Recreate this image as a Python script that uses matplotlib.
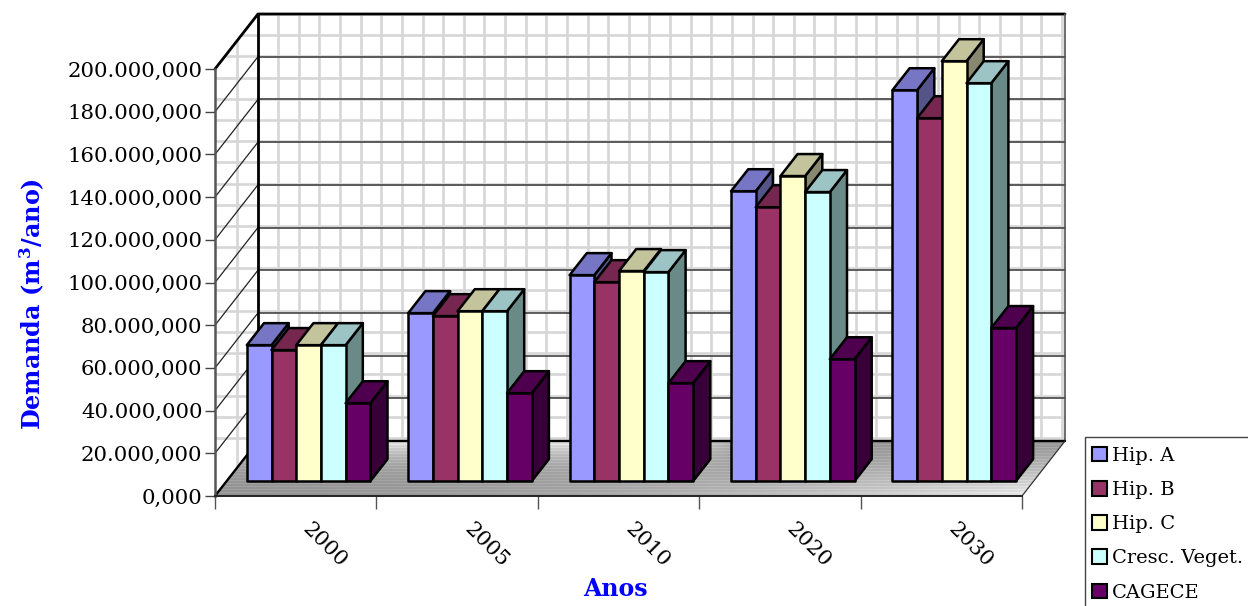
import numpy as np
import matplotlib
matplotlib.use("Agg")
import matplotlib.pyplot as plt
from matplotlib.patches import Polygon, Patch, Rectangle
from matplotlib.transforms import ScaledTranslation

plt.rcParams['font.family'] = ['DejaVu Serif']
plt.rcParams['mathtext.fontset'] = 'dejavuserif'

# values
years = ["2000", "2005", "2010", "2020", "2030"]
hip_a = [63.7, 78.7, 96.5, 135.8, 183.1]
hip_b = [61.4, 77.3, 93.2, 128.3, 170.0]
hip_c = [63.7, 79.6, 98.4, 142.9, 196.7]
veget = [63.7, 79.6, 97.9, 135.4, 186.4]
cagece = [36.5, 41.2, 45.9, 57.1, 71.7]
series_names = ["Hip. A", "Hip. B", "Hip. C", "Cresc. Veget.", "CAGECE"]
series = [hip_a, hip_b, hip_c, veget, cagece]
y_ticks = [0, 20, 40, 60, 80, 100, 120, 140, 160, 180, 200]
y_labels = ["0,000", "20.000,000", "40.000,000", "60.000,000", "80.000,000", "100.000,000",
            "120.000,000", "140.000,000", "160.000,000", "180.000,000", "200.000,000"]

front = ["#9999ff", "#993366", "#ffffcc", "#ccffff", "#660066"]
top = ["#7676c4", "#762750", "#c4c49c", "#9cc4c4", "#4e004e"]
side = ["#545488", "#541c38", "#888870", "#6a8a88", "#380038"]

W, H = 1248, 606
x0, x1 = 215, 1022
y0, y200 = 496, 69
fig = plt.figure(figsize=(W / 100, H / 100), dpi=100)
ax = fig.add_axes([x0 / W, 1 - y0 / H, (x1 - x0) / W, (y0 - y200) / H])
ax.set_xlim(0, 5)
ax.set_ylim(0, 200)
px_x = 5 / (x1 - x0)
px_y = 200 / (y0 - y200)
dep_x = 43 * px_x
dep_y = 55 * px_y


def proj(x, v, d):
    # oblique projection: d=0 front of the floor, d=1 back wall
    return x + d * dep_x, v + d * dep_y


def px(x, y):
    return (x - x0) * px_x, (y0 - y) * px_y


# walls
wall_left = Polygon([proj(0, 0, 0), proj(0, 200, 0), proj(0, 200, 1), proj(0, 0, 1)],
                    fc="white", ec="none", zorder=1, clip_on=False)
wall_back = Polygon([proj(0, 0, 1), proj(5, 0, 1), proj(5, 200, 1), proj(0, 200, 1)],
                    fc="white", ec="none", zorder=1, clip_on=False)
ax.add_patch(wall_left)
ax.add_patch(wall_back)

# tiled light grid of the wall texture, not perspective aligned
for wall in (wall_left, wall_back):
    for gx in np.arange(237, 1066, 20.62):
        a, _ = px(gx, 0)
        ln = ax.plot([a, a], [-20, 240], color="#d6d6d6", lw=1.9, zorder=1.5)[0]
        ln.set_clip_box(fig.bbox)
        ln.set_clip_path(wall)
    for gy in np.arange(14, 442, 21.2):
        _, b = px(0, gy)
        ln = ax.plot([-1, 6], [b, b], color="#d6d6d6", lw=1.9, zorder=1.5)[0]
        ln.set_clip_box(fig.bbox)
        ln.set_clip_path(wall)

# major gridlines
for t in y_ticks:
    xs, ys = zip(proj(0, t, 0), proj(0, t, 1), proj(5, t, 1))
    ax.plot(xs[:2], ys[:2], color="#222222", lw=0.9, zorder=2, clip_on=False)
    ax.plot(xs[1:], ys[1:], color="#444444", lw=1.2, zorder=2, clip_on=False)

# floor with its gradient
floor = Polygon([proj(0, 0, 0), proj(5, 0, 0), proj(5, 0, 1), proj(0, 0, 1)],
                fc="none", ec="none", zorder=3, clip_on=False)
ax.add_patch(floor)
u = np.linspace(0, 1, 300)[None, :]
v = np.linspace(0, 1, 56)[:, None]
grad = 0.58 + 0.36 * (1 - v) ** 1.3 * u ** 2 + 0.34 * v ** 3 * np.clip((0.64 - u) / 0.1, 0, 1)
grad = grad + 0.05 * (np.arange(56) % 3 == 0)[:, None]
im = ax.imshow(np.clip(grad, 0, 1), cmap="gray", vmin=0, vmax=1, aspect="auto",
               extent=(0, 5 + dep_x, dep_y, 0), zorder=3, interpolation="nearest")
im.set_clip_box(fig.bbox)
im.set_clip_path(floor)
ax.set_xlim(0, 5)
ax.set_ylim(0, 200)

# wall frame
frame_kw = dict(clip_on=False, zorder=4, solid_capstyle="round")
xs, ys = zip(proj(0, 200, 0), proj(0, 200, 1), proj(5, 200, 1))
ax.plot(xs, ys, color="black", lw=2.0, **frame_kw)
xs, ys = zip(proj(0, 200, 1), proj(0, 0, 1))
ax.plot(xs, ys, color="black", lw=2.0, **frame_kw)
xs, ys = zip(proj(5, 200, 1), proj(5, 0, 1))
ax.plot(xs, ys, color="#555555", lw=1.2, **frame_kw)
xs, ys = zip(proj(0, 0, 0), proj(0, 0, 1), proj(5, 0, 1))
ax.plot(xs, ys, color="black", lw=1.7, **frame_kw)
xs, ys = zip(proj(5, 0, 1), proj(5, 0, 0))
ax.plot(xs, ys, color="#333333", lw=0.9, **frame_kw)

# bars, drawn left to right so neighbours overlap their side faces
bar_w = 24.7 * px_x
gap_start = 20.2 * px_x
d_front, d_back = 0.27, 0.67
for g in range(len(years)):
    for s, vals in enumerate(series):
        left = g + gap_start + s * bar_w
        right = left + bar_w
        val = vals[g]
        z = 5 + g + s * 0.01
        kw = dict(ec="black", lw=1.8, joinstyle="round", clip_on=False, zorder=z)
        ax.add_patch(Polygon([proj(right, 0, d_front), proj(right, 0, d_back),
                              proj(right, val, d_back), proj(right, val, d_front)], fc=side[s], **kw))
        ax.add_patch(Polygon([proj(left, val, d_front), proj(right, val, d_front),
                              proj(right, val, d_back), proj(left, val, d_back)], fc=top[s], **kw))
        ax.add_patch(Polygon([proj(left, 0, d_front), proj(right, 0, d_front),
                              proj(right, val, d_front), proj(left, val, d_front)], fc=front[s], **kw))

# axes
for name in ("top", "right"):
    ax.spines[name].set_visible(False)
ax.spines["left"].set_color("#555555")
ax.spines["left"].set_linewidth(1.8)
ax.spines["left"].set_zorder(4)
ax.spines["bottom"].set_color("#222222")
ax.spines["bottom"].set_linewidth(1.4)
ax.spines["bottom"].set_zorder(4)
ax.patch.set_visible(False)

ax.set_yticks(y_ticks)
ax.set_yticklabels(y_labels, fontsize=15.3)
ax.tick_params(axis="y", length=7, width=1.0, color="#444444", pad=2)
ax.set_xticks(range(6))
ax.set_xticklabels([])
ax.tick_params(axis="x", length=9, width=1.0, color="#555555")
# x labels sit on minor ticks in the middle of each group, pushed right like the original
ax.set_xticks(np.arange(5) + 0.5, minor=True)
ax.set_xticklabels(years, minor=True, fontsize=15.3, rotation=-45, ha="center", va="top")
ax.tick_params(axis="x", which="minor", length=0, pad=17)
shift = ScaledTranslation(29 / 100, 0, fig.dpi_scale_trans)
for lab in ax.get_xticklabels(minor=True):
    lab.set_transform(lab.get_transform() + shift)

fig.text(32 / W, 1 - 304 / H, r"Demanda (m$\mathbf{^3}$/ano)", color="#0000ff", fontsize=17.2,
         fontweight="bold", rotation=90, ha="center", va="center")
fig.text(615 / W, 1 - 589 / H, "Anos", color="#0000ff", fontsize=17, fontweight="bold",
         ha="center", va="center")

# the legend box runs off the right and bottom of the picture
fig.add_artist(Rectangle((1084.5 / W, 1 - 620 / H), 200 / W, 183 / H, transform=fig.transFigure,
                         fc="white", ec="#444444", lw=1.0, zorder=8))
handles = [Patch(fc=c, ec="black", lw=1.5) for c in front]
leg = fig.legend(handles, series_names, loc="upper left", bbox_to_anchor=(1092 / W, 1 - 447 / H),
                 borderaxespad=0, fontsize=14, frameon=False, handlelength=0.77, handleheight=0.77,
                 handletextpad=0.26, labelspacing=0.83, borderpad=0)
leg.set_zorder(9)

fig.savefig("out.png", dpi=100)
